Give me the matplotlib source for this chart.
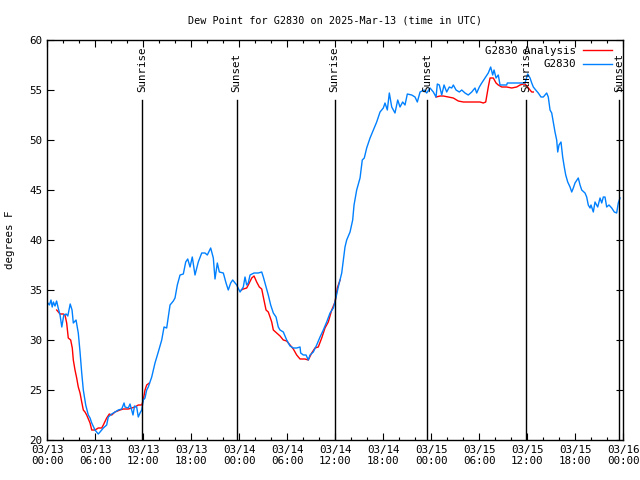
import numpy as np
import pandas as pd
import matplotlib
matplotlib.use("Agg")
import matplotlib.pyplot as plt
import matplotlib.dates as mdates

# hours since 2025-03-13 00:00 UTC, dew point in deg F
obs_hours = [0.1, 0.3, 0.5, 0.65, 0.8, 1.0, 1.2, 1.4, 1.63, 1.85, 2.1, 2.4, 2.6, 2.9, 3.13, 3.29,
             3.63, 3.91, 4.13, 4.34, 4.54, 4.84, 5.16, 5.38, 5.59, 6.0, 6.41, 6.63, 7.04, 7.46,
             7.66, 8.09, 8.5, 8.91, 9.34, 9.63, 9.75, 10.16, 10.38, 10.75, 10.94, 11.21, 11.41,
             11.63, 11.84, 12.04, 12.25, 12.46, 12.66, 13.09, 13.5, 13.91, 14.34, 14.63, 14.96,
             15.38, 15.79, 16.0, 16.29, 16.63, 17.04, 17.34, 17.59, 17.88, 18.16, 18.5, 18.91,
             19.34, 19.75, 20.04, 20.46, 20.79, 21.0, 21.29, 21.54, 22.04, 22.38, 22.66, 22.96,
             23.21, 23.71, 24.13, 24.54, 24.75, 24.96, 25.16, 25.38, 25.88, 26.41, 26.84, 27.04,
             27.38, 27.66, 27.96, 28.29, 28.63, 28.91, 29.13, 29.54, 29.96, 30.38, 30.79, 31.21,
             31.63, 31.71, 32.04, 32.38, 32.66, 32.88, 33.29, 33.71, 34.13, 34.54, 34.96, 35.38,
             35.79, 36.0, 36.41, 36.84, 37.04, 37.25, 37.46, 37.88, 38.21, 38.38, 38.71, 39.13,
             39.41, 39.66, 39.96, 40.38, 40.79, 41.21, 41.63, 42.04, 42.25, 42.54, 42.79, 43.09,
             43.5, 43.84, 44.13, 44.46, 44.75, 45.04, 45.59, 46.0, 46.29, 46.63, 47.13, 47.46,
             47.88, 48.29, 48.63, 48.79, 49.04, 49.34, 49.63, 49.96, 50.29, 50.59, 50.79, 51.13,
             51.54, 51.84, 52.25, 52.66, 53.09, 53.5, 53.71, 54.04, 54.34, 54.75, 55.16, 55.46,
             55.71, 55.88, 56.13, 56.41, 56.63, 57.46, 57.54, 59.75, 60.09, 60.38, 60.59, 60.79,
             61.09, 61.41, 61.75, 62.04, 62.46, 62.66, 62.88, 63.09, 63.29, 63.5, 63.71, 63.84,
             64.0, 64.25, 64.46, 64.66, 64.84, 65.09, 65.38, 65.59, 65.79, 66.0, 66.41, 66.63,
             66.84, 67.25, 67.46, 67.66, 67.88, 68.0, 68.29, 68.5, 68.84, 69.13, 69.34, 69.54,
             69.75, 69.96, 70.25, 70.59, 70.91, 71.21, 71.41, 71.63]
obs_dewpt = [33.7, 33.5, 34.0, 33.3, 33.8, 33.4, 33.9, 33.2, 32.5, 31.3, 32.5, 32.6, 32.4, 33.6, 33.0, 31.7,
             32.0, 30.7, 28.8, 26.7, 25.0, 23.5, 22.5, 22.2, 21.7, 21.0, 20.6, 20.8, 21.2, 21.5,
             22.3, 22.6, 22.8, 23.0, 23.1, 23.7, 23.3, 23.2, 23.6, 22.5, 23.4, 23.3, 22.3,
             22.7, 23.0, 24.0, 24.2, 25.0, 25.3, 26.3, 27.7, 28.8, 30.0, 31.3, 31.2,
             33.5, 33.9, 34.2, 35.5, 36.5, 36.6, 37.8, 38.1, 37.3, 38.3, 36.5, 37.8,
             38.7, 38.7, 38.5, 39.2, 38.2, 36.1, 37.7, 36.8, 36.7, 35.7, 35.0, 35.7,
             36.0, 35.5, 34.8, 35.3, 36.3, 35.5, 35.7, 36.5, 36.7, 36.7, 36.8, 36.3,
             35.3, 34.5, 33.5, 32.7, 32.3, 31.3, 31.0, 30.8, 30.0, 29.4, 29.2, 29.2,
             29.3, 28.7, 28.5, 28.5, 28.0, 28.5, 28.8, 29.5, 30.3, 31.0, 31.8, 32.7,
             33.2, 33.8, 35.3, 36.7, 38.0, 39.3, 40.0, 40.8, 42.0, 43.5, 45.0, 46.2,
             48.0, 48.2, 49.2, 50.2, 51.0, 51.8, 52.8, 53.2, 53.7, 53.0, 54.7, 53.3,
             52.7, 54.0, 53.3, 53.8, 53.5, 54.6, 54.5, 54.3, 53.8, 54.8, 55.0, 54.7,
             55.2, 54.8, 54.3, 55.6, 55.5, 54.5, 55.5, 54.8, 55.3, 55.2, 55.5, 55.0,
             54.8, 55.0, 54.7, 54.5, 54.8, 55.2, 54.7, 55.3, 55.7, 56.2, 56.7, 57.3,
             56.5, 57.0, 56.2, 56.5, 55.5, 55.5, 55.7, 55.7, 56.6, 56.2, 55.7, 55.3,
             55.0, 54.7, 54.3, 54.3, 54.7, 54.3, 53.0, 52.7, 51.8, 50.8, 50.0, 48.8,
             49.5, 49.8, 48.3, 47.3, 46.5, 45.8, 45.3, 44.8, 45.2, 45.7, 46.2, 45.5,
             45.0, 44.7, 44.3, 43.5, 43.2, 43.5, 42.8, 43.8, 43.3, 44.2, 43.7, 44.3,
             44.3, 43.3, 43.5, 43.2, 42.8, 42.7, 43.7, 44.2]

# analysis, NaN marks the gaps
ana_hours = [1.21, 1.63, 2.04, 2.25, 2.46, 2.66, 2.96, 3.16, 3.29, 3.5, 3.71, 3.91, 4.13, 4.34,
             4.54, 4.75, 4.96, 5.38, 5.59, 6.0, 6.41, 6.84, 7.04, 7.46, 7.79, 8.09, 8.5, 9.13,
             9.54, 10.16, 10.59, 11.0, 11.41, 11.84, 12.04, 12.25, 12.46, 12.79,
             18.0,
             24.3, 24.54, 24.96, 25.16, 25.59, 25.88, 26.21, 26.54, 26.84, 27.04, 27.38, 27.66,
             27.88, 28.09, 28.29, 28.71, 29.13, 29.54, 29.96, 30.38, 30.79, 31.21, 31.63, 32.25,
             32.66, 33.09, 33.5, 33.91, 34.34, 34.75, 35.16, 35.59, 36.0, 36.29, 36.63,
             42.0,
             48.63, 49.13, 49.54, 50.16, 50.79, 51.41, 52.04, 53.29, 54.13, 54.54, 54.84, 55.16,
             55.38, 55.79, 56.13, 56.41, 56.84, 57.46, 58.09, 58.71, 59.13, 59.54, 59.75, 60.09,
             60.38, 60.59, 60.79]
ana_dewpt = [33.0, 32.6, 32.6, 32.5, 31.7, 30.2, 30.0, 29.2, 28.0, 27.0, 26.2, 25.3, 24.7, 23.8,
             23.0, 22.8, 22.5, 21.7, 21.0, 21.0, 21.2, 21.2, 21.5, 22.2, 22.6, 22.5, 22.8, 23.0,
             23.1, 23.1, 23.2, 23.3, 23.5, 23.5, 24.0, 25.0, 25.5, 25.7,
             np.nan,
             35.0, 35.1, 35.2, 35.5, 36.2, 36.4, 35.8, 35.3, 35.1, 34.3, 33.0, 32.8,
             32.3, 31.8, 31.0, 30.7, 30.4, 30.0, 29.9, 29.5, 29.1, 28.5, 28.1, 28.1,
             28.0, 28.7, 29.2, 29.3, 30.2, 31.2, 31.8, 33.0, 33.8, 35.2, 36.0,
             np.nan,
             54.3, 54.4, 54.4, 54.3, 54.2, 53.9, 53.8, 53.8, 53.8, 53.7, 53.8, 55.3,
             56.2, 56.2, 55.7, 55.5, 55.3, 55.3, 55.2, 55.3, 55.5, 55.6, 55.6, 55.3,
             55.0, 54.8, 54.8]

sun_hours = [11.9, 23.7, 35.95, 47.55, 59.85, 71.5]
sun_labels = ["Sunrise", "Sunset", "Sunrise", "Sunset", "Sunrise", "Sunset"]

t0 = pd.Timestamp("2025-03-13 00:00")
def to_time(h):
    return t0 + pd.to_timedelta(np.asarray(h, dtype=float), unit="h")

mono = "DejaVu Sans Mono"
fs = 7.8
plt.rcParams["font.family"] = mono
plt.rcParams["font.size"] = fs

fig = plt.figure(figsize=(6.4, 4.8), dpi=100)
ax = fig.add_axes([47/640, 40/480, 576/640, 400/480])

ax.plot(to_time(ana_hours), ana_dewpt, color="#ff0000", lw=1.0, label="G2830 Analysis")
ax.plot(to_time(obs_hours), obs_dewpt, color="#0080ff", lw=1.0, label="G2830")

# sunrise / sunset markers
for h, lab in zip(sun_hours, sun_labels):
    t = to_time([h])[0]
    ax.plot([t, t], [20, 54.0], color="black", lw=1.0)
    ax.text(t, 54.8, lab, rotation=90, ha="center", va="bottom", fontsize=fs)

ax.set_xlim(t0, t0 + pd.Timedelta(hours=72))
ax.set_ylim(20, 60)
ax.set_yticks(np.arange(20, 61, 5))
ax.xaxis.set_major_locator(mdates.HourLocator(byhour=[0, 6, 12, 18]))
ax.xaxis.set_minor_locator(mdates.HourLocator(byhour=range(0, 24, 2)))
ax.xaxis.set_major_formatter(mdates.DateFormatter("%m/%d\n%H:%M"))
ax.tick_params(which="both", direction="in", top=True, right=True, labelsize=fs)
ax.tick_params(which="major", length=5, width=0.8)
ax.tick_params(which="minor", length=2.5, width=0.8)
for s in ax.spines.values():
    s.set_linewidth(1.0)

ax.set_title("Dew Point for G2830 on 2025-Mar-13 (time in UTC)", fontsize=7.3, pad=12)
ax.set_ylabel("degrees F", fontsize=fs, labelpad=10)

ax.legend(loc="upper right", frameon=False, markerfirst=False, handlelength=2.6,
          borderaxespad=0.0, borderpad=0.1, labelspacing=0.3, handletextpad=0.7,
          fontsize=fs, bbox_to_anchor=(0.982, 0.9875))

fig.savefig("out.png", dpi=100)
